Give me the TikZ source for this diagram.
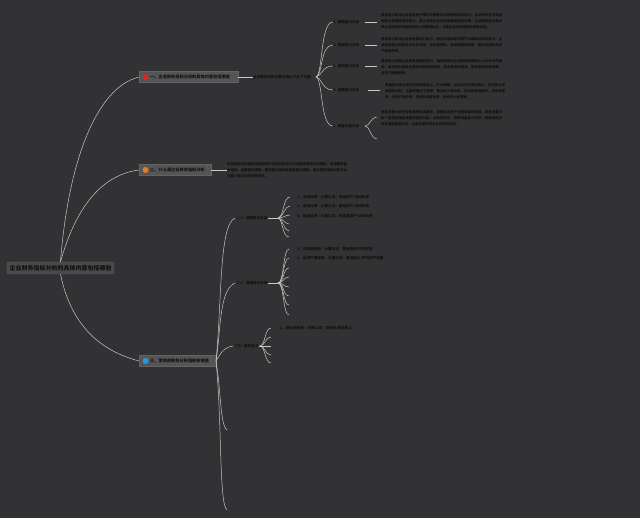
\documentclass[tikz,border=0pt]{standalone}
\usepackage{fontspec}
\setmainfont{Noto Sans CJK SC}
\XeTeXlinebreaklocale "zh"
\XeTeXlinebreakskip=0pt plus 1pt
\begin{document}
\begin{tikzpicture}[x=1pt,y=-1pt,
  conn/.style={draw=linegray,line width=0.5pt},
  rootbox/.style={fill=rootfill,draw=rootdraw,line width=0.4pt,rounded corners=2pt,inner sep=0pt,minimum width=107pt,minimum height=12pt,font=\fontsize{6}{7}\selectfont\bfseries,text=txt},
  brbox/.style={fill=brfill,draw=brdraw,line width=0.3pt,inner sep=0pt,minimum height=11pt,anchor=west,font=\fontsize{4.2}{5}\selectfont,text=txt},
  lab/.style={anchor=west,inner sep=0pt,font=\fontsize{3.6}{4.5}\selectfont\bfseries,text=txt},
  para/.style={anchor=west,inner sep=0pt,align=justify,text width=121pt,font=\fontsize{3.4}{6}\selectfont\bfseries,text=txt},
  dotc/.style={circle,inner sep=0pt,minimum size=6pt}]
\definecolor{bg}{HTML}{323234}
\definecolor{linegray}{HTML}{C8C8C8}
\definecolor{rootfill}{HTML}{4A4A4C}
\definecolor{rootdraw}{HTML}{5A5A5C}
\definecolor{brfill}{HTML}{555557}
\definecolor{brdraw}{HTML}{626264}
\definecolor{txt}{HTML}{101010}
\definecolor{dred}{HTML}{E0251B}
\definecolor{dorange}{HTML}{E87A1E}
\definecolor{dblue}{HTML}{1E9BE0}
\fill[bg] (0,0) rectangle (640,518);
\useasboundingbox (0,0) rectangle (640,518);

% root
\node[rootbox] (root) at (60.5,268) {企业财务指标分析的具体内容包括哪些};

% branches
\node[brbox,minimum width=99pt] (b1) at (139,77) {};
\node[dotc,fill=dred] (d1) at (145.5,77) {};
\node[lab,font=\fontsize{4.2}{5}\selectfont\bfseries] (t1) at (150,77) {一、企业财务指标分析的具体内容包括哪些};

\node[brbox,minimum width=72pt] (b2) at (139,170) {};
\node[dotc,fill=dorange] (d2) at (145.5,170) {};
\node[lab,font=\fontsize{4.2}{5}\selectfont\bfseries] (t2) at (150,170) {二、什么是企业财务指标分析};

\node[brbox,minimum width=77pt] (b3) at (139,361) {};
\node[dotc,fill=dblue] (d3) at (145.5,361) {};
\node[lab,font=\fontsize{4.2}{5}\selectfont\bfseries] (t3) at (150,361) {三、常用的财务分析指标有哪些};

\draw[conn] (root.north) .. controls (68,165) and (95,88) .. (b1.west);
\draw[conn] (root.north) .. controls (75,210) and (100,175) .. (b2.west);
\draw[conn] (root.south) .. controls (72,330) and (105,352) .. (b3.west);

% branch 1
\node[lab] (m1) at (253,77) {企业财务分析主要包括以下五个方面};
\draw[conn] (b1.east) -- (m1.west);
\coordinate (j1) at (316,77);

\node[lab] (c11) at (333,22) {1. 偿债能力分析};
\node[lab] (c12) at (333,45) {2. 营运能力分析};
\node[lab] (c13) at (333,66) {3. 盈利能力分析};
\node[lab] (c14) at (333,90) {4. 发展能力分析};
\node[lab] (c15) at (333,126) {5. 现金流量分析};
\draw[conn] (j1) .. controls (323,75) and (320,22) .. (c11.west);
\draw[conn] (j1) .. controls (323,75) and (320,45) .. (c12.west);
\draw[conn] (j1) .. controls (322,76) and (322,66) .. (c13.west);
\draw[conn] (j1) .. controls (322,78) and (322,90) .. (c14.west);
\draw[conn] (j1) .. controls (323,79) and (320,126) .. (c15.west);

\node[para] (p11) at (381,21) {偿债能力是指企业用其资产偿还长期债务与短期债务的能力。企业有无支付现金的能力和偿还债务能力，是企业能否生存和健康发展的关键。企业偿债能力是反映企业财务状况和经营能力的重要标志，也是企业财务管理的重要内容。};
\node[para] (p12) at (381,45.5) {营运能力是指企业的经营运行能力，即企业运用各项资产以赚取利润的能力。企业营运能力的财务分析比率有：存货周转率、应收账款周转率、营业周期和总资产周转率等。};
\node[para] (p13) at (381,67) {盈利能力就是企业资金增值的能力，通常体现为企业收益数额的大小与水平的高低。盈利能力指标主要包括营业利润率、成本费用利润率、盈余现金保障倍数、总资产报酬率等。};
\node[para,text width=120pt] (p14) at (385,91) {发展能力是企业在生存的基础上，扩大规模、壮大实力的潜在能力。在分析企业发展能力时，主要考察以下指标：营业收入增长率、资本保值增值率、资本积累率、总资产增长率、营业利润增长率、技术投入比率等。};
\node[para] (p15) at (381,118) {现金流量分析不仅依靠现金流量表，还要结合资产负债表和利润表。现金流量分析一般包括现金流量的结构分析、流动性分析、获取现金能力分析、财务弹性分析及收益质量分析，从而全面评价企业的财务状况。};

\coordinate (f11) at (365,22);
\coordinate (f12) at (365,45);
\coordinate (f13) at (365,66);
\coordinate (f14) at (368,90);
\coordinate (e11) at (377,22);
\coordinate (e12) at (377,45);
\coordinate (e13) at (377,66);
\coordinate (e14) at (380,90);
\draw[conn] (f11) -- (e11);
\draw[conn] (f12) -- (e12);
\draw[conn] (f13) -- (e13);
\draw[conn] (f14) -- (e14);
\coordinate (j15) at (365,126);
\coordinate (e15a) at (377,117);
\coordinate (e15b) at (377,139);
\draw[conn] (j15) .. controls (370,126) and (370,118) .. (e15a);
\draw[conn] (j15) .. controls (370,126) and (370,138) .. (e15b);

% branch 2
\node[para,text width=120pt] (p2) at (227,170) {财务指标分析是指总结和评价企业财务状况与经营成果的分析指标，包括偿债能力指标、运营能力指标、盈利能力指标和发展能力指标。通过财务指标分析可以全面了解企业的经营状况。};
\draw[conn] (b2.east) -- (p2.west);

% branch 3
\coordinate (j3) at (216,361);
\node[lab] (s1) at (235,218) {（一）偿债能力分析};
\node[lab] (s2) at (235,283) {（二）营运能力分析};
\node[lab] (s3) at (233,346) {（三）盈利能力};
\coordinate (s4) at (227,430);
\coordinate (s5) at (227,510);
\draw[conn] (j3) .. controls (222,300) and (219,225) .. (s1.west);
\draw[conn] (j3) .. controls (221,330) and (219,290) .. (s2.west);
\draw[conn] (j3) .. controls (220,355) and (222,348) .. (s3.west);
\draw[conn] (j3) .. controls (221,390) and (220,425) .. (s4);
\draw[conn] (j3) .. controls (222,420) and (219,505) .. (s5);

% (一)
\coordinate (k1) at (278,218);
\draw[conn] (s1.east) -- (k1);
\node[lab] (q11) at (297,197) {1、流动比率：计算公式：流动资产/流动负债};
\node[lab] (q12) at (297,206) {2、速动比率：计算公式：速动资产/流动负债};
\node[lab] (q13) at (297,216) {3、现金比率：计算公式：现金类资产/流动负债};
\coordinate (q14) at (289,224);
\coordinate (q15) at (289,231);
\coordinate (q16) at (289,237);
\draw[conn] (k1) .. controls (284,217) and (283,197) .. (290,197);
\draw[conn] (k1) .. controls (284,217) and (284,206) .. (290,206);
\draw[conn] (k1) .. controls (284,218) and (285,215) .. (290,215);
\draw[conn] (k1) .. controls (284,219) and (285,224) .. (q14);
\draw[conn] (k1) .. controls (283,219) and (284,231) .. (q15);
\draw[conn] (k1) .. controls (283,219) and (282,237) .. (q16);

% (二)
\coordinate (k2) at (278,283);
\draw[conn] (s2.east) -- (k2);
\node[lab] (q21) at (297,249) {1、存货周转率：计算公式：营业成本/平均存货};
\node[lab] (q22) at (297,258) {2、总资产周转率：计算公式：营业收入/平均资产总额};
\foreach \yy in {249,258,268,277,287,296,305,315}{
  \draw[conn] (k2) .. controls (284,283) and (283,\yy) .. (289,\yy);
}

% (三)
\coordinate (k3) at (260,346);
\draw[conn] (s3.east) -- (k3);
\node[lab] (q31) at (280,328) {1、营业净利率：计算公式：净利润/营业收入};
\foreach \yy in {328,337,346,355,363}{
  \draw[conn] (k3) .. controls (265,346) and (265,\yy) .. (271,\yy);
}
\end{tikzpicture}
\end{document}
